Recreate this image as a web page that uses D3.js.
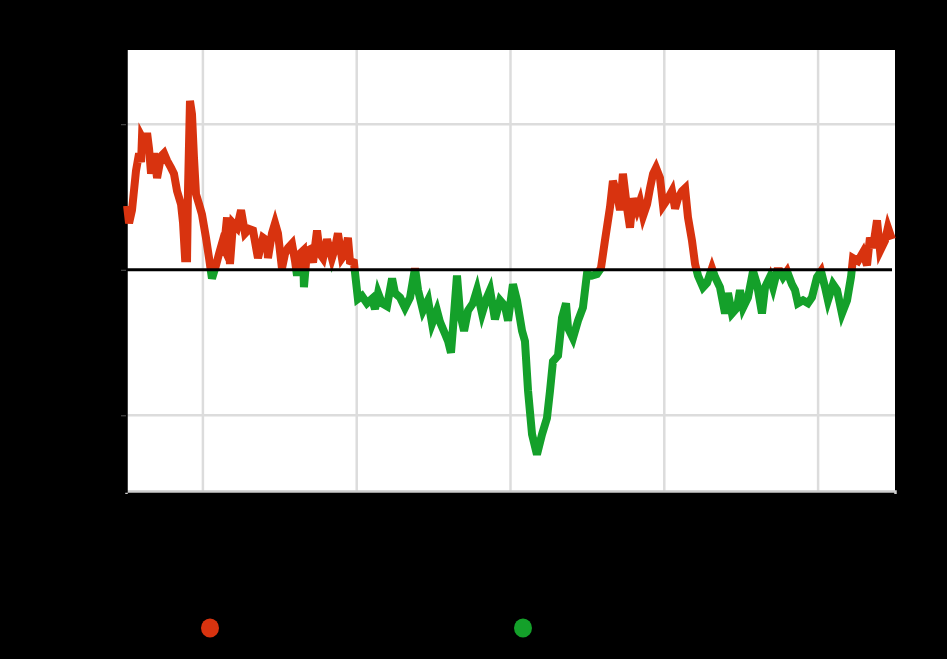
<!DOCTYPE html>
<html>
<head>
<meta charset="utf-8">
<script src="https://cdn.jsdelivr.net/npm/d3@7"></script>
<style>
  body { margin: 0; background: #000; font-family: "Liberation Sans", Arial, sans-serif; }
  svg { display: block; }
</style>
</head>
<body>
<div id="chart"></div>
<script>
// Years (decimal) and readings, above zero drawn red, below zero green
const years = [
  1965.07, 1965.20, 1965.39, 1965.65, 1965.85, 1965.98, 1966.04, 1966.24, 1966.37, 1966.50,
  1966.63, 1966.82, 1967.02, 1967.28, 1967.47, 1967.67, 1967.93, 1968.12, 1968.32, 1968.58,
  1968.71, 1968.84, 1968.97, 1969.03, 1969.16, 1969.29, 1969.42, 1969.55, 1969.75, 1969.94,
  1970.20, 1970.40, 1970.59, 1970.85, 1971.05, 1971.24, 1971.37, 1971.57, 1971.76, 1971.96,
  1972.22, 1972.48, 1972.74, 1973.00, 1973.26, 1973.58, 1973.91, 1974.17, 1974.23, 1974.49,
  1974.69, 1974.88, 1975.14, 1975.34, 1975.53, 1975.79, 1975.99, 1976.12, 1976.31, 1976.51,
  1976.57, 1976.77, 1976.96, 1977.16, 1977.42, 1977.61, 1977.81, 1978.07, 1978.39, 1978.59,
  1978.78, 1979.04, 1979.24, 1979.43, 1979.56, 1979.82, 1979.89, 1980.08, 1980.34, 1980.67,
  1980.99, 1981.19, 1981.39, 1981.64, 1981.97, 1982.30, 1982.49, 1982.82, 1983.14, 1983.47,
  1983.79, 1983.99, 1984.31, 1984.64, 1984.90, 1985.22, 1985.42, 1985.74, 1985.94, 1986.13,
  1986.26, 1986.52, 1986.72, 1986.98, 1987.24, 1987.56, 1987.82, 1988.15, 1988.47, 1988.67,
  1988.99, 1989.32, 1989.64, 1989.84, 1990.16, 1990.42, 1990.75, 1990.94, 1991.14, 1991.40,
  1991.72, 1992.05, 1992.37, 1992.57, 1992.76, 1993.09, 1993.35, 1993.61, 1993.74, 1994.06,
  1994.39, 1994.71, 1994.97, 1995.30, 1995.62, 1995.88, 1996.14, 1996.47, 1996.66, 1996.92,
  1997.12, 1997.31, 1997.57, 1997.77, 1997.96, 1998.22, 1998.42, 1998.62, 1998.88, 1999.07,
  1999.27, 1999.46, 1999.72, 1999.92, 2000.24, 2000.50, 2000.70, 2000.89, 2001.15, 2001.35,
  2001.54, 2001.80, 2002.00, 2002.19, 2002.52, 2002.78, 2003.10, 2003.30, 2003.62, 2003.95,
  2004.14, 2004.40, 2004.73, 2004.92, 2005.12, 2005.44, 2005.77, 2006.03, 2006.35, 2006.55,
  2006.87, 2007.07, 2007.33, 2007.52, 2007.72, 2007.98, 2008.30, 2008.50, 2008.69, 2009.02,
  2009.34, 2009.60, 2009.93, 2010.19, 2010.45, 2010.64, 2010.97, 2011.23, 2011.55, 2011.88,
  2012.14, 2012.27, 2012.59, 2012.92, 2013.18, 2013.37, 2013.57, 2013.83, 2014.03, 2014.35,
  2014.54, 2014.80
];
const values = [
  0.44, 0.32, 0.41, 0.68, 0.80, 0.74, 0.91, 0.87, 0.94, 0.83,
  0.66, 0.80, 0.63, 0.78, 0.80, 0.75, 0.70, 0.66, 0.54, 0.45,
  0.32, 0.08, 0.08, 0.54, 1.16, 1.07, 0.77, 0.52, 0.45, 0.38,
  0.22, 0.08, -0.06, 0.03, 0.11, 0.18, 0.15, 0.36, 0.04, 0.32,
  0.29, 0.41, 0.25, 0.28, 0.27, 0.08, 0.22, 0.20, 0.08, 0.25,
  0.32, 0.25, 0.01, 0.11, 0.15, 0.18, 0.06, -0.04, 0.11, 0.13,
  -0.12, 0.13, 0.14, 0.05, 0.27, 0.11, 0.08, 0.21, 0.08, 0.15,
  0.25, 0.08, 0.11, 0.22, 0.06, 0.05, -0.02, -0.20, -0.18, -0.23,
  -0.20, -0.27, -0.16, -0.23, -0.25, -0.06, -0.16, -0.19, -0.26, -0.19,
  0.01, -0.14, -0.28, -0.21, -0.37, -0.28, -0.36, -0.44, -0.49, -0.57,
  -0.40, -0.04, -0.30, -0.42, -0.28, -0.23, -0.14, -0.30, -0.19, -0.14,
  -0.34, -0.21, -0.25, -0.35, -0.10, -0.21, -0.42, -0.49, -0.83, -1.13,
  -1.27, -1.13, -1.02, -0.83, -0.63, -0.59, -0.33, -0.23, -0.40, -0.47,
  -0.35, -0.26, -0.03, -0.04, -0.03, 0.01, 0.20, 0.43, 0.61, 0.52,
  0.41, 0.66, 0.43, 0.29, 0.49, 0.41, 0.47, 0.37, 0.45, 0.56,
  0.66, 0.70, 0.63, 0.44, 0.49, 0.54, 0.42, 0.49, 0.54, 0.56,
  0.36, 0.20, 0.04, -0.04, -0.12, -0.09, 0.01, -0.05, -0.12, -0.30,
  -0.16, -0.30, -0.26, -0.14, -0.26, -0.19, -0.01, -0.10, -0.30, -0.12,
  -0.05, -0.12, -0.01, -0.01, -0.05, -0.01, -0.10, -0.14, -0.23, -0.21,
  -0.23, -0.19, -0.05, -0.01, -0.12, -0.21, -0.10, -0.14, -0.30, -0.21,
  -0.05, 0.08, 0.06, 0.12, 0.03, 0.22, 0.15, 0.34, 0.13, 0.20,
  0.29, 0.21
];
const xTicks = [1970, 1980, 1990, 2000, 2010];
const yTicks = [-1, 0, 1];
const legendLabels = ["Above average", "Below average"];
const legendColors = ["#d8330f", "#14a02a"];

const width = 947, height = 659;
const margin = { top: 50, right: 52, bottom: 168, left: 126 };
const innerW = width - margin.left - margin.right;
const innerH = height - margin.top - margin.bottom;

const svg = d3.select("#chart").append("svg")
    .attr("width", width)
    .attr("height", height);

// Title (dark text)
svg.append("text")
    .attr("x", width / 2).attr("y", 28)
    .attr("text-anchor", "middle")
    .style("font-size", "20px").style("font-weight", "bold")
    .attr("fill", "#000")
    .text("Deviation from long-run average");

const g = svg.append("g")
    .attr("transform", "translate(" + margin.left + "," + margin.top + ")");

var x = d3.scaleLinear().domain([1965, 2015]).range([0, innerW]);
var y = d3.scaleLinear().domain([-1.52, 1.51]).range([innerH, 0]);

// White plot area
g.append("rect")
    .attr("width", innerW).attr("height", innerH)
    .attr("fill", "#fff");

// Grid lines
g.append("g")
    .selectAll("line.vx")
    .data(xTicks).enter().append("line")
    .attr("x1", d => x(d)).attr("x2", d => x(d))
    .attr("y1", 0).attr("y2", innerH)
    .attr("stroke", "#dcdcdc").attr("stroke-width", 2.5);

g.append("g")
    .selectAll("line.hy")
    .data(yTicks.filter(d => d !== 0)).enter().append("line")
    .attr("x1", 0).attr("x2", innerW)
    .attr("y1", d => y(d)).attr("y2", d => y(d))
    .attr("stroke", "#dcdcdc").attr("stroke-width", 2.5);

// Axes
var xAxis = g.append("g")
    .attr("transform", "translate(0," + innerH + ")")
    .call(d3.axisBottom(x).tickValues(xTicks).tickFormat(d3.format("d"))
        .tickSizeInner(0).tickSizeOuter(3).tickPadding(14));
xAxis.select(".domain").attr("stroke", "#ccc").attr("stroke-width", 2.5);
xAxis.selectAll("text").attr("fill", "#000").style("font-size", "16px");

var yAxis = g.append("g")
    .call(d3.axisLeft(y).tickValues(yTicks).tickSize(5));
yAxis.select(".domain").attr("stroke", "#000").attr("stroke-width", 2.5);
yAxis.selectAll("line").attr("stroke", "#555");
yAxis.selectAll("text").attr("fill", "#000").style("font-size", "16px");

// Axis labels
svg.append("text")
    .attr("transform", "translate(40," + (margin.top + innerH / 2) + ") rotate(-90)")
    .attr("text-anchor", "middle")
    .style("font-size", "16px").attr("fill", "#000")
    .text("Standard deviations");

svg.append("text")
    .attr("x", margin.left + innerW / 2).attr("y", 560)
    .attr("text-anchor", "middle")
    .style("font-size", "16px").attr("fill", "#000")
    .text("Year");

// Two-colour gradient split at zero
var grad = svg.append("defs").append("linearGradient")
    .attr("id", "splitGrad")
    .attr("gradientUnits", "userSpaceOnUse")
    .attr("x1", 0).attr("x2", 0)
    .attr("y1", y(1.51)).attr("y2", y(-1.52));
var zeroOffset = (y(0) - y(1.51)) / (y(-1.52) - y(1.51));
grad.selectAll("stop")
    .data([
        { offset: 0, color: legendColors[0] },
        { offset: zeroOffset, color: legendColors[0] },
        { offset: zeroOffset, color: legendColors[1] },
        { offset: 1, color: legendColors[1] }
    ])
    .enter().append("stop")
    .attr("offset", d => d.offset)
    .attr("stop-color", d => d.color);

var series = years.map((yr, i) => ({ year: yr, value: values[i] }));

var line = d3.line()
    .x(d => x(d.year))
    .y(d => y(d.value));

g.append("path")
    .datum(series)
    .attr("d", line)
    .attr("fill", "none")
    .attr("stroke", "url(#splitGrad)")
    .attr("stroke-width", 8);

// Zero line
g.append("line")
    .attr("x1", 0).attr("x2", innerW - 3)
    .attr("y1", y(0)).attr("y2", y(0))
    .attr("stroke", "#000").attr("stroke-width", 3);

// Legend
var legend = svg.append("g").attr("transform", "translate(0,628)");
var items = legend.selectAll("g.item")
    .data(legendLabels).enter().append("g")
    .attr("transform", (d, i) => "translate(" + [210, 523][i] + ",0)");
items.append("ellipse")
    .attr("rx", 9).attr("ry", 9.5)
    .attr("fill", (d, i) => legendColors[i]);
items.append("text")
    .attr("x", 18).attr("dy", "0.35em")
    .style("font-size", "16px").attr("fill", "#000")
    .text(d => d);
</script>
</body>
</html>
